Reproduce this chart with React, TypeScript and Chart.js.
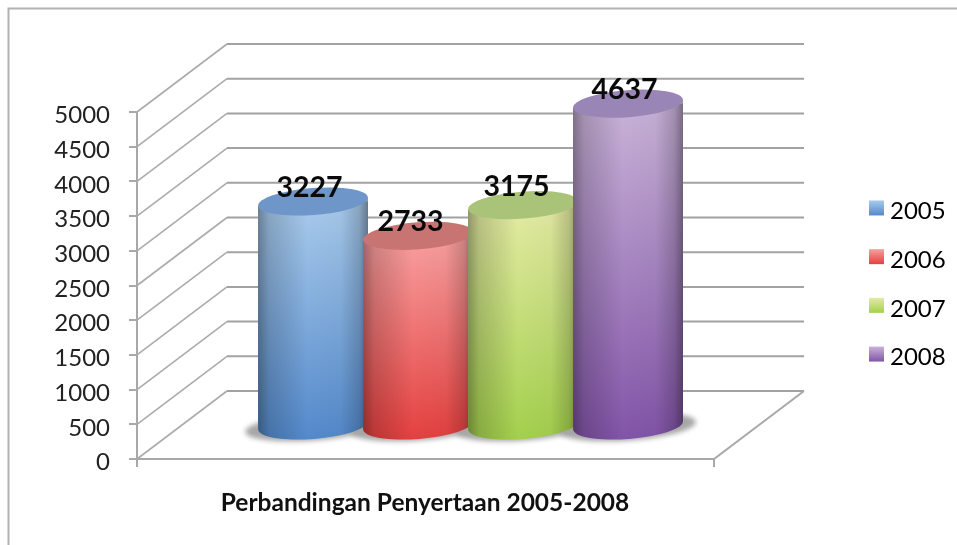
import React, { useEffect, useRef } from "react";
import { Chart, registerables } from "chart.js";

Chart.register(...registerables);

const categories = ["Perbandingan Penyertaan 2005-2008"];
const seriesNames = ["2005", "2006", "2007", "2008"];
const values2005 = [3227];
const values2006 = [2733];
const values2007 = [3175];
const values2008 = [4637];
const tickStep = 500;
const axisMax = 5000;

const seriesValues = [values2005, values2006, values2007, values2008];
const FONT = "Lato, Carlito, 'Open Sans', sans-serif";
// top colour, bottom colour, cap colour
const palette = [
  ["#A9CBEC", "#5389CB", "#6F96C8"],
  ["#F9A0A0", "#E4403F", "#C87472"],
  ["#E4EBA4", "#A3D04C", "#A9C379"],
  ["#C9B3D8", "#8254A8", "#9A86B6"],
];
const labelLift = [14, 14, 18, 14];
const labelShift = [3.5, 7.5, 6.5, 3.5];
const DX = 90, DY = -68, FRONT_END = 714, TILT = -0.075, RY = 13.5;
const PLOT_RIGHT = 804, LEGEND_X = 869, LEGEND_PAD = 24.7;

const cylinder: any = {
  id: "cylinder",
  beforeDraw(chart: any) {
    const s = chart.scales.y;
    if (!s._wrapped) {
      s._wrapped = true;
      const orig = s.drawLabels;
      s.drawLabels = function (area: any) {
        const c = this.ctx;
        c.save();
        c.translate(0, 3.5);
        orig.call(this, area);
        c.restore();
      };
    }
    const c = chart.ctx;
    c.save();
    c.strokeStyle = "#b2b2b2";
    c.lineWidth = 2;
    c.beginPath();
    c.moveTo(8.5, 545);
    c.lineTo(8.5, 8.5);
    c.lineTo(957, 8.5);
    c.stroke();
    c.restore();
  },
  afterLayout(chart: any) {
    const l = chart.legend;
    const w = l.right - l.left;
    l.left = LEGEND_X - LEGEND_PAD;
    l.right = l.left + w;
    l.top -= 1;
    l.bottom -= 1;
  },
  beforeDatasetDraw() {
    return false;
  },
  beforeDatasetsDraw(chart: any) {
    const c = chart.ctx;
    const y = chart.scales.y;
    const left = chart.chartArea.left;
    // walls and floor
    c.save();
    c.lineCap = "butt";
    for (let v = 0; v <= axisMax; v += tickStep) {
      const p = y.getPixelForValue(v);
      c.strokeStyle = "#ababab";
      c.lineWidth = 1.6;
      c.beginPath();
      c.moveTo(left, p);
      c.lineTo(left + DX, p + DY);
      c.stroke();
      c.strokeStyle = "#a2a2a2";
      c.lineWidth = 2;
      c.beginPath();
      c.moveTo(left + DX, p + DY);
      c.lineTo(chart.chartArea.right, p + DY);
      c.stroke();
    }
    const p0 = y.getPixelForValue(0);
    c.strokeStyle = "#a8a8a8";
    c.lineWidth = 2;
    c.beginPath();
    c.moveTo(left - 8, p0);
    c.lineTo(FRONT_END, p0);
    c.lineTo(chart.chartArea.right, p0 + DY);
    c.moveTo(FRONT_END, p0 - 1);
    c.lineTo(FRONT_END, p0 + 8);
    c.moveTo(left, p0 - 1);
    c.lineTo(left, p0 + 8);
    c.stroke();
    c.restore();

    // floor shadows
    c.save();
    c.filter = "blur(2.5px)";
    c.fillStyle = "#a6a6a6";
    chart.data.datasets.forEach((_: any, i: number) => {
      const b = chart.getDatasetMeta(i).data[0];
      c.beginPath();
      c.ellipse(b.x, b.base + 1.5, b.width / 2 + 13, RY, TILT, 0, Math.PI * 2);
      c.fill();
    });
    c.restore();

    // bars left to right, later ones in front
    chart.data.datasets.forEach((_: any, i: number) => {
      const meta = chart.getDatasetMeta(i);
      const b = meta.data[0];
      const w = b.width / 2;
      const rise = Math.sin(-TILT) * w;
      const l = b.x - w, r = b.x + w;
      c.save();
      c.beginPath();
      c.moveTo(l, b.y + rise);
      c.lineTo(r, b.y - rise);
      c.lineTo(r, b.base - rise);
      c.lineTo(l, b.base + rise);
      c.closePath();
      c.clip();
      meta.controller.draw();
      c.restore();

      const fill = b.options.backgroundColor;
      c.fillStyle = fill;
      c.beginPath();
      c.moveTo(l, b.base - rise - 3);
      c.lineTo(r, b.base - rise - 3);
      c.ellipse(b.x, b.base, w, RY, TILT, 0, Math.PI);
      c.closePath();
      c.fill();

      // cylinder shading, darker at the sides, keeps the hue
      const g = c.createLinearGradient(l, 0, r, 0);
      g.addColorStop(0, "#a4a4a4");
      g.addColorStop(0.1, "#d2d2d2");
      g.addColorStop(0.45, "#ffffff");
      g.addColorStop(0.75, "#f8f8f8");
      g.addColorStop(0.92, "#cfcfcf");
      g.addColorStop(1, "#9a9a9a");
      c.save();
      c.globalCompositeOperation = "multiply";
      c.fillStyle = g;
      c.beginPath();
      c.moveTo(l, b.y + rise);
      c.lineTo(r, b.y - rise);
      c.lineTo(r, b.base - rise);
      c.ellipse(b.x, b.base, w, RY, TILT, 0, Math.PI);
      c.closePath();
      c.fill();
      c.restore();

      c.fillStyle = palette[i][2];
      c.beginPath();
      c.ellipse(b.x, b.y, w, RY, TILT, 0, Math.PI * 2);
      c.fill();
    });
  },
  afterDatasetsDraw(chart: any) {
    const c = chart.ctx;
    c.save();
    c.fillStyle = "#0a0a0a";
    c.font = `bold 28.5px ${FONT}`;
    c.textAlign = "center";
    c.textBaseline = "middle";
    chart.data.datasets.forEach((d: any, i: number) => {
      const b = chart.getDatasetMeta(i).data[0];
      c.fillText(String(d.data[0]), b.x - labelShift[i], b.y - labelLift[i]);
    });
    c.font = `bold 24.5px ${FONT}`;
    c.fillStyle = "#111";
    c.fillText(categories[0], 425, 503.5);
    c.restore();
  },
  afterDraw(chart: any) {
    const c = chart.ctx;
    const l = chart.legend;
    c.save();
    l.legendHitBoxes.forEach((h: any, i: number) => {
      const x = LEGEND_X;
      const y = h.top + h.height / 2 - 11;
      const g = c.createLinearGradient(0, y, 0, y + 15);
      g.addColorStop(0, palette[i][0]);
      g.addColorStop(1, palette[i][1]);
      c.fillStyle = g;
      c.fillRect(x, y, 15, 15);
    });
    c.restore();
  },
};

export default function App() {
  const ref = useRef<HTMLCanvasElement | null>(null);
  useEffect(() => {
    const chart = new Chart(ref.current as HTMLCanvasElement, {
      type: "bar",
      data: {
        labels: categories,
        datasets: seriesNames.map((name, i) => ({
          label: name,
          data: seriesValues[i],
          yAxisID: "y2",
          backgroundColor: (ctx: any) => {
            const s = ctx.chart.scales.y2;
            if (!s) return palette[i][1];
            const top = s.getPixelForValue(seriesValues[i][0]);
            const base = s.getPixelForValue(0);
            const g = ctx.chart.ctx.createLinearGradient(0, top, 0, base + 14);
            g.addColorStop(0, palette[i][0]);
            g.addColorStop(1, palette[i][1]);
            return g;
          },
          barPercentage: 110 / 105,
          categoryPercentage: 420 / 667,
        })),
      },
      options: {
        responsive: false,
        animation: false,
        layout: { padding: { top: 112, bottom: 86 } },
        plugins: {
          title: { display: false },
          tooltip: { enabled: false },
          legend: {
            position: "right",
            labels: {
              font: { family: FONT, size: 24 },
              color: "#222",
              padding: LEGEND_PAD,
              boxWidth: 9,
              boxHeight: 15,
              generateLabels: (ch: any) =>
                ch.data.datasets.map((d: any, i: number) => ({
                  text: d.label,
                  fillStyle: "transparent",
                  strokeStyle: "transparent",
                  lineWidth: 0,
                  datasetIndex: i,
                  hidden: false,
                })),
            },
          },
        },
        scales: {
          x: { display: false },
          y: {
            position: "left",
            min: 0,
            max: axisMax,
            afterFit: (s: any) => {
              s.width = 137;
            },
            ticks: {
              stepSize: tickStep,
              padding: 19,
              color: "#222",
              font: { family: FONT, size: 24 },
              callback: (v: any) => String(v),
            },
            grid: { drawOnChartArea: false, tickLength: 8, color: "#a8a8a8", lineWidth: 2 },
            border: { color: "#a8a8a8", width: 2 },
          },
          y2: {
            position: "right",
            min: -483,
            max: 4517,
            afterFit: (s: any) => {
              s.width = Math.max(0, 957 - s.chart.legend.width - PLOT_RIGHT);
            },
            ticks: { display: false },
            grid: { display: false },
            border: { display: false },
          },
        },
      },
      plugins: [cylinder],
    } as any);
    return () => chart.destroy();
  }, []);
  return (
    <div style={{ position: "absolute", left: 0, top: 0, width: 957, height: 545, background: "#fff" }}>
      <canvas ref={ref} width={957} height={545} style={{ display: "block", filter: "blur(0.4px)" }} />
    </div>
  );
}
